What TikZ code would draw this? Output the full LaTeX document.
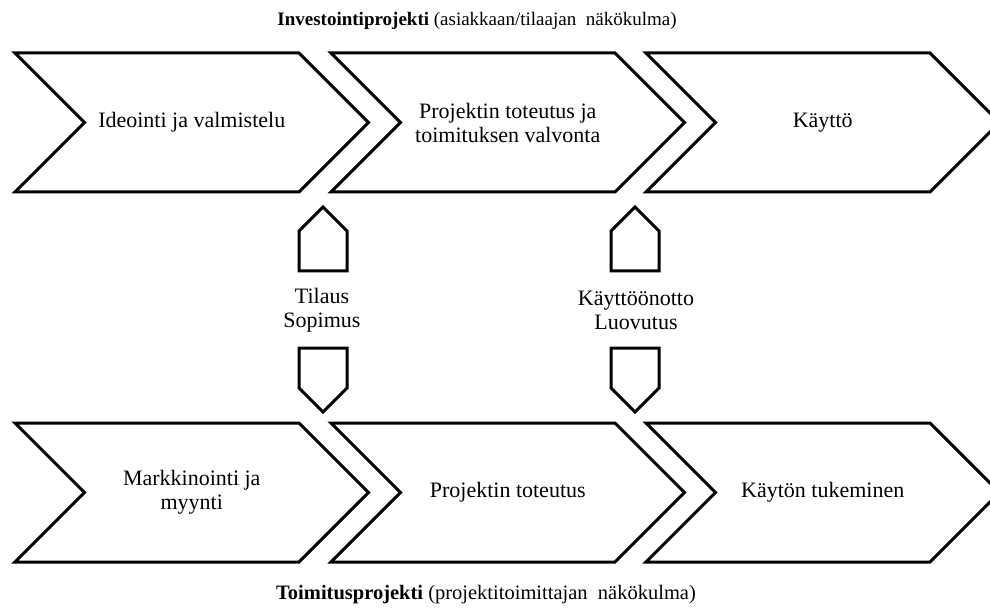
\documentclass[tikz,border=0pt]{standalone}
\usepackage{fontspec}
\setmainfont{Liberation Serif}

% chevron outline: #1 = left x, #2 = top y (y grows downward)
\newcommand\chevronbox[2]{%
  \draw[shapeline] (#1,#2) -- ++(284,0) -- ++(69.5,69.5) -- ++(-69.5,69.5)
    -- ++(-284,0) -- ++(69.5,-69.5) -- cycle;}
% upward house shape centred on x = #1
\newcommand\uphouse[1]{%
  \draw[shapeline] (#1-24,271) -- (#1-24,231) -- (#1,207) -- (#1+24,231)
    -- (#1+24,271) -- cycle;}
% downward pointer shape centred on x = #1
\newcommand\downhouse[1]{%
  \draw[shapeline] (#1-24,348) -- (#1+24,348) -- (#1+24,388) -- (#1,412)
    -- (#1-24,388) -- cycle;}

\begin{document}
\begin{tikzpicture}[x=1pt,y=-1pt,
  shapeline/.style={line width=3pt, line join=miter, draw=black, fill=white},
  steptext/.style={font=\fontsize{22}{24}\selectfont, align=center, inner sep=0pt},
  toptitle/.style={font=\fontsize{19}{21}\selectfont, inner sep=0pt},
  bottitle/.style={font=\fontsize{20.5}{22}\selectfont, inner sep=0pt}]
\useasboundingbox (0,0) rectangle (990,612);
\fill[white] (0,0) rectangle (990,612);
\clip (0,0) rectangle (990,612);

% upper row: investment project
\chevronbox{15}{53}
\chevronbox{331}{53}
\chevronbox{646}{53}
\node[steptext] (ideointi) at (191.75,122.5) {Ideointi ja valmistelu};
\node[steptext] (toteutusA) at (507.75,122.5) {Projektin toteutus ja\\toimituksen valvonta};
\node[steptext] (kaytto) at (822.75,122.5) {Käyttö};

% lower row: delivery project
\chevronbox{15}{423}
\chevronbox{331}{423}
\chevronbox{646}{423}
\node[steptext] (markkinointi) at (191.75,492.5) {Markkinointi ja\\myynti};
\node[steptext] (toteutusB) at (507.75,492.5) {Projektin toteutus};
\node[steptext] (tukeminen) at (822.75,492.5) {Käytön tukeminen};

% interface markers between the two rows
\uphouse{323}
\downhouse{323}
\uphouse{635}
\downhouse{635}
\node[steptext] (tilaus) at (322,310) {Tilaus\\Sopimus};
\node[steptext] (luovutus) at (636,310) {Käyttöönotto\\Luovutus};

% row titles
\node[toptitle] (ylaotsikko) at (477,21) {\textbf{Investointiprojekti} (asiakkaan/tilaajan\ \ näkökulma)};
\node[bottitle] (alaotsikko) at (486,595) {\textbf{Toimitusprojekti} (projektitoimittajan\ \ näkökulma)};
\end{tikzpicture}
\end{document}
